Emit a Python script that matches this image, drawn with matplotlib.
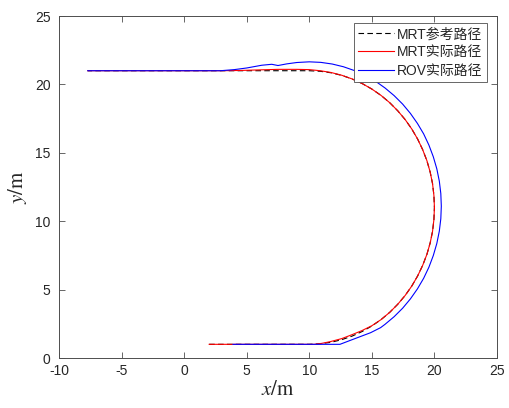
import numpy as np
import matplotlib
matplotlib.use('Agg')
import matplotlib.pyplot as plt

plt.rcParams['font.family'] = ['Liberation Sans', 'Noto Sans CJK SC']
plt.rcParams['mathtext.fontset'] = 'stix'
plt.rcParams['axes.unicode_minus'] = False

# MRT reference path
ref_x = [2.0, 10.0, 10.87, 11.74, 12.59, 13.42, 14.23, 15.0, 15.74, 16.43, 17.07,
         17.66, 18.19, 18.66, 19.06, 19.40, 19.66, 19.85, 19.96, 20.0,
         19.96, 19.85, 19.66, 19.40, 19.06, 18.66, 18.19, 17.66, 17.07, 16.43,
         15.74, 15.0, 14.23, 13.42, 12.59, 11.74, 10.87, 10.0, -7.7]
ref_y = [1.0, 1.0, 1.04, 1.15, 1.34, 1.60, 1.94, 2.34, 2.81, 3.34, 3.93,
         4.57, 5.26, 6.0, 6.77, 7.58, 8.41, 9.26, 10.13, 11.0,
         11.87, 12.74, 13.59, 14.42, 15.23, 16.0, 16.74, 17.43, 18.07, 18.66,
         19.19, 19.66, 20.06, 20.40, 20.66, 20.85, 20.96, 21.0, 21.0]

# MRT actual path
mrt_x = [2.0, 10.4, 11.0, 11.7, 12.6, 13.4, 14.2, 15.0, 15.74, 16.43, 17.07,
         17.66, 18.19, 18.66, 19.06, 19.40, 19.66, 19.85, 19.96, 20.0,
         19.96, 19.85, 19.66, 19.40, 19.06, 18.66, 18.19, 17.66, 17.07, 16.43,
         15.74, 15.0, 14.23, 13.42, 12.59, 11.74, 10.87, 10.0, 9.0, 7.5,
         6.0, 4.5, 3.0, -7.7]
mrt_y = [1.0, 1.0, 1.07, 1.2, 1.42, 1.7, 2.0, 2.36, 2.81, 3.34, 3.93,
         4.57, 5.26, 6.0, 6.77, 7.58, 8.41, 9.26, 10.13, 11.0,
         11.87, 12.74, 13.59, 14.42, 15.23, 16.0, 16.74, 17.43, 18.07, 18.66,
         19.19, 19.66, 20.06, 20.40, 20.67, 20.87, 21.0, 21.08, 21.1, 21.1,
         21.06, 21.02, 21.0, 21.0]

# ROV actual path
rov_x = [3.9, 12.45, 13.6, 14.9, 15.7, 16.05, 16.78, 17.46, 18.08, 18.64, 19.14,
         19.56, 19.91, 20.19, 20.39, 20.51, 20.55, 20.51, 20.39, 20.19, 19.91,
         19.56, 19.14, 18.64, 18.08, 17.46, 16.78, 16.05, 15.28, 14.46, 13.61,
         12.73, 11.83, 10.92, 10.0, 9.0, 8.2, 7.5, 7.0, 6.2, 5.0, 4.0, 2.9, -7.7]
rov_y = [1.0, 1.0, 1.4, 1.85, 2.22, 2.46, 3.02, 3.64, 4.32, 5.05, 5.83,
         6.64, 7.49, 8.37, 9.27, 10.18, 11.1, 12.02, 12.93, 13.83, 14.71,
         15.56, 16.38, 17.15, 17.88, 18.56, 19.18, 19.74, 20.24, 20.66, 21.01,
         21.29, 21.49, 21.61, 21.65, 21.6, 21.5, 21.38, 21.47, 21.4, 21.2, 21.08, 21.0, 21.0]

fig = plt.figure(figsize=(5.09, 4.08), dpi=100)
ax = fig.add_axes([59 / 509, 50 / 408, 438 / 509, 342 / 408])

ax.plot(ref_x, ref_y, color='k', linestyle='--', dashes=(5, 3), lw=0.8, label='MRT参考路径')
ax.plot(mrt_x, mrt_y, color='r', lw=0.8, label='MRT实际路径')
ax.plot(rov_x, rov_y, color='b', lw=0.8, label='ROV实际路径')

ax.set_xlim(-10, 25)
ax.set_ylim(0, 25)
ax.set_xticks(np.arange(-10, 26, 5))
ax.set_yticks(np.arange(0, 26, 5))

gray = '#262626'
for s in ax.spines.values():
    s.set_color('#4d4d4d')
    s.set_linewidth(0.7)
ax.tick_params(direction='in', top=True, right=True, length=4, width=0.6,
               colors='#4d4d4d', labelsize=10, labelcolor=gray, pad=4)
ax.tick_params(axis='y', pad=6)

ax.set_xlabel(r'$x/\mathrm{m}$', fontsize=15, color=gray, labelpad=2)
ax.set_ylabel(r'$y/\mathrm{m}$', fontsize=15, color=gray, labelpad=4)

leg = ax.legend(loc='upper right', bbox_to_anchor=(0.977, 0.9795), borderaxespad=0,
                fontsize=10, fancybox=False, handlelength=2.6, handletextpad=0.25,
                labelspacing=0.3, borderpad=0.3, framealpha=1)
leg.get_frame().set_edgecolor('#4d4d4d')
leg.get_frame().set_linewidth(0.6)
for t in leg.get_texts():
    t.set_color(gray)

fig.savefig('out.png', dpi=100)
